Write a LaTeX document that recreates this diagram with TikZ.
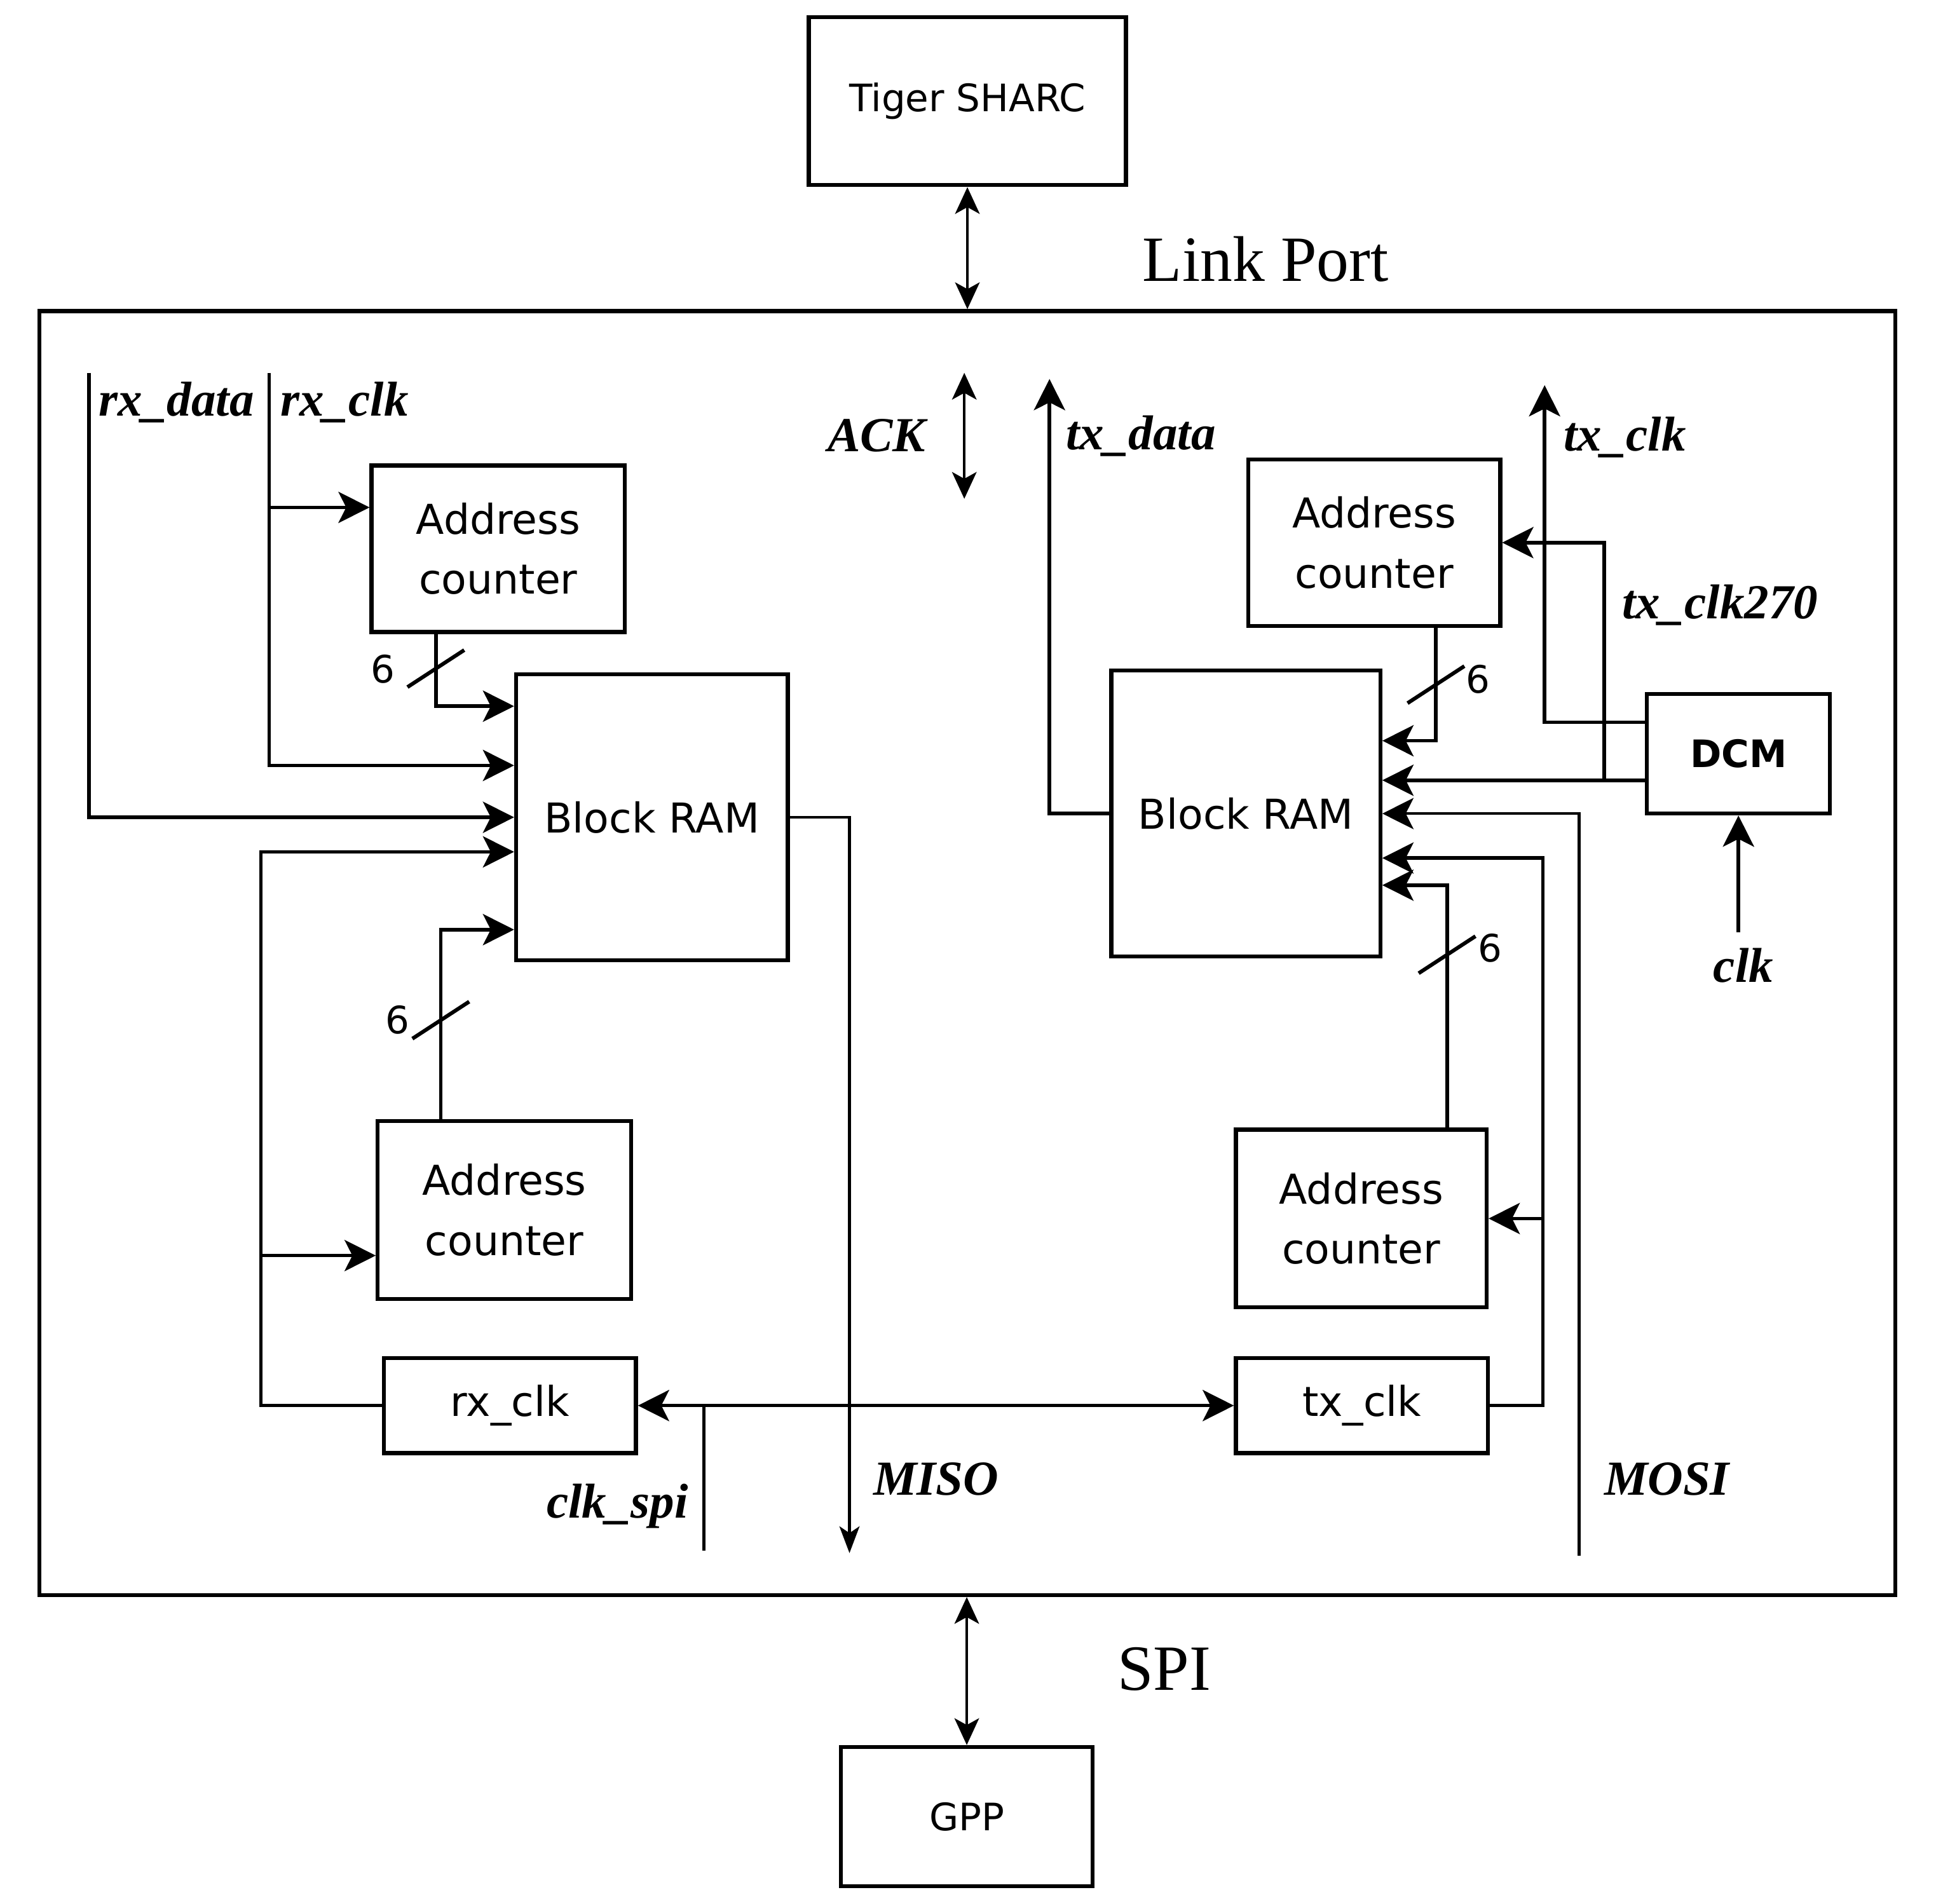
\documentclass[tikz,border=0pt]{standalone}
\usepackage{fontspec}
\setmainfont{Liberation Serif}
\setsansfont{DejaVu Sans}
\usetikzlibrary{arrows.meta, positioning, calc}

\begin{document}
\begin{tikzpicture}[
        x=0.0195cm, y=-0.0195cm,
        box/.style={rectangle, draw, line width=1.8pt, align=center, inner sep=0pt, font=\sffamily\fontsize{18.5}{27}\selectfont},
        sig/.style={inner sep=0pt, font=\bfseries\itshape\fontsize{22}{22}\selectfont},
        bus/.style={inner sep=0pt, font=\sffamily\fontsize{17}{17}\selectfont},
        conn/.style={line width=1.6pt, -{Stealth[length=14pt, width=14pt, inset=3.5pt]}},
        both/.style={line width=1.6pt, {Stealth[length=14pt, width=14pt, inset=3.5pt]}-{Stealth[length=14pt, width=14pt, inset=3.5pt]}},
        link/.style={line width=1.3pt, {Stealth[length=12pt, width=11pt, inset=3pt]}-{Stealth[length=12pt, width=11pt, inset=3pt]}},
        buscut/.pic={\draw[line width=1.7pt] (-23,15) -- (23,-15);}
    ]
        \useasboundingbox (0,0) rectangle (1568,1542);

        \node[box, font=\sffamily\fontsize{17}{17}\selectfont, minimum width=5.01cm, minimum height=2.65cm] (sharc) at (783.5,82) {Tiger SHARC};
        \node[box, minimum width=29.31cm, minimum height=20.28cm] (fpga) at (783.5,772) {};
        \node[box, font=\sffamily\fontsize{17}{17}\selectfont, minimum width=3.98cm, minimum height=2.2cm] (gpp) at (783,1471.5) {GPP};

        \draw[link] (sharc.south) -- (sharc.south |- fpga.north);
        \draw[link] (fpga.south -| gpp.north) -- (gpp.north);
        \node[font=\fontsize{29}{29}\selectfont] (lport) at (1025,210) {Link Port};
        \node[font=\fontsize{29}{29}\selectfont] (spi) at (943,1352) {SPI};

        % receive side
        \node[box, minimum width=4cm, minimum height=2.63cm] (acL) at (403.5,444.5) {Address\\counter};
        \node[box, minimum width=4.29cm, minimum height=4.52cm] (ramL) at (528,662) {Block RAM};
        \node[box, minimum width=4cm, minimum height=2.81cm] (acLB) at (408.5,980) {Address\\counter};
        \node[box, minimum width=3.98cm, minimum height=1.5cm] (rxclk) at (413,1138.5) {rx\_clk};

        % transmit side
        \node[box, minimum width=3.98cm, minimum height=2.63cm] (acR) at (1113,439.5) {Address\\counter};
        \node[box, minimum width=4.25cm, minimum height=4.52cm] (ramR) at (1009,659) {Block RAM};
        \node[box, minimum width=3.96cm, minimum height=2.81cm] (acRB) at (1102.5,987) {Address\\counter};
        \node[box, minimum width=3.98cm, minimum height=1.5cm] (txclk) at (1103,1138.5) {tx\_clk};
        \node[box, font=\sffamily\bfseries\fontsize{17}{17}\selectfont, minimum width=2.89cm, minimum height=1.89cm] (dcm) at (1408,610.5) {DCM};

        \coordinate (rxd) at (72,302);
        \coordinate (rxc) at (218,302);
        \coordinate (ackT) at (781,302);
        \coordinate (ackB) at (781,404);
        \coordinate (txd) at (850,307);
        \coordinate (txc) at (1251,312);
        \coordinate (clkin) at (1408,755);
        \coordinate (miso) at (688,1258);
        \coordinate (mosi) at (1279,1260);
        \coordinate (clkspi) at (570,1256);
        \coordinate (acLin) at ($(acL.west)+(0,-33.5)$);
        \coordinate (acLBin) at ($(acLB.west)+(0,37)$);

        % rx connections
        \draw[conn] (rxd) |- (ramL.west);
        \draw[conn] (rxc) |- ($(ramL.west)+(0,-42)$);
        \draw[conn] (rxc |- acLin) -- (acLin);
        \draw[conn] ($(acL.south)+(-50.5,0)$) |- ($(ramL.west)+(0,-90)$);
        \draw[conn] (rxclk.west) -- ++(-98,0) coordinate (lp) |- ($(ramL.west)+(0,28)$);
        \draw[conn] (lp |- acLBin) -- (acLBin);
        \draw[conn] ($(acLB.north)+(-51.5,0)$) |- ($(ramL.west)+(0,91)$);
        \draw[line width=1.3pt, -{Stealth[length=12pt, width=9pt, inset=3pt]}] (ramL.east) -| (miso);
        \draw[both] (rxclk.east) -- (txclk.west);
        \draw[line width=1.3pt] (clkspi) -- (clkspi |- rxclk.east);
        \draw[link] (ackT) -- (ackB);

        \pic at ($(acL.south)+(-50.5,28)$) {buscut};
        \pic at ($(acLB.north)+(-51.5,-80)$) {buscut};
        \node[bus] (w1) at (310,542) {6};
        \node[bus] (w2) at (322,826) {6};

        % tx connections
        \draw[conn] (ramR.west) -| (txd);
        \draw[conn] ($(acR.south)+(50,0)$) |- ($(ramR.east)+(0,-59)$);
        \draw[conn] ($(dcm.west)+(0,-25.5)$) -| (txc);
        \draw[conn] ($(dcm.west)+(0,21.5)$) -- ($(ramR.east)+(0,-27)$);
        \draw[conn] ($(dcm.west)+(-33,21.5)$) |- (acR.east);
        \draw[conn] (clkin) -- (dcm.south);
        \draw[conn, line width=1.3pt] (mosi) |- (ramR.east);
        \draw[conn] (txclk.east) -- ++(43,0) coordinate (rp) |- ($(ramR.east)+(0,36)$);
        \draw[conn] (rp |- acRB.east) -- (acRB.east);
        \draw[conn] ($(acRB.north)+(69.5,0)$) |- ($(ramR.east)+(0,58)$);

        \pic at ($(acR.south)+(50,46)$) {buscut};
        \pic at ($(acRB.north)+(69.5,-140)$) {buscut};
        \node[bus] (w3) at (1197,550) {6};
        \node[bus] (w4) at (1207,768) {6};

        % signal names
        \node[sig] (lrxd) at (143,326) {rx\_data};
        \node[sig] (lrxc) at (279,326) {rx\_clk};
        \node[sig] (lack) at (710,353) {ACK};
        \node[sig] (ltxd) at (924,353) {tx\_data};
        \node[sig] (ltxc) at (1316,354) {tx\_clk};
        \node[sig] (ltxc2) at (1393,490) {tx\_clk270};
        \node[sig] (lclk) at (1412,782) {clk};
        \node[sig] (lmiso) at (758,1198) {MISO};
        \node[sig] (lmosi) at (1350,1198) {MOSI};
        \node[sig] (lspi) at (500,1220) {clk\_spi};
    \end{tikzpicture}
\end{document}
